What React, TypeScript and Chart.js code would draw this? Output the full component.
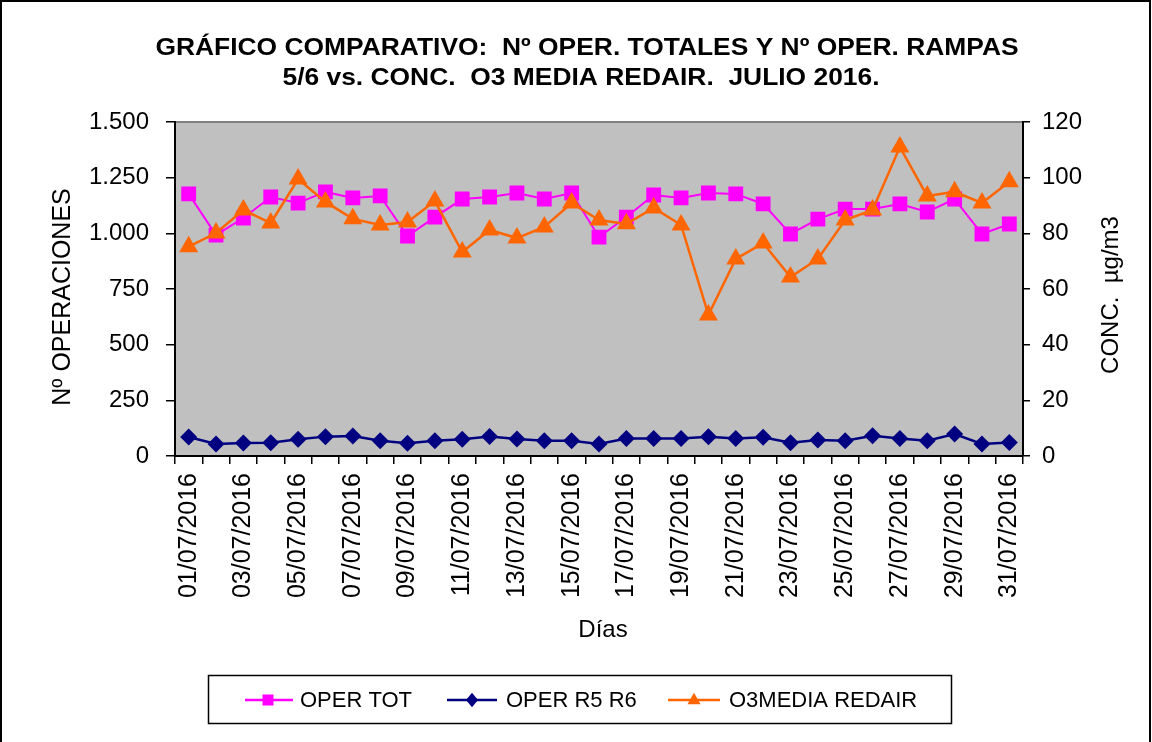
import React, { useEffect, useRef } from 'react';
import { Chart, registerables } from 'chart.js';

Chart.register(...registerables);

const DAYS = [
  '01/07/2016', '02/07/2016', '03/07/2016', '04/07/2016', '05/07/2016', '06/07/2016', '07/07/2016', '08/07/2016',
  '09/07/2016', '10/07/2016', '11/07/2016', '12/07/2016', '13/07/2016', '14/07/2016', '15/07/2016', '16/07/2016',
  '17/07/2016', '18/07/2016', '19/07/2016', '20/07/2016', '21/07/2016', '22/07/2016', '23/07/2016', '24/07/2016',
  '25/07/2016', '26/07/2016', '27/07/2016', '28/07/2016', '29/07/2016', '30/07/2016', '31/07/2016',
];

const OPER_TOT = [
  1177, 992, 1069, 1163, 1136, 1186, 1159, 1168, 988, 1073, 1154, 1163, 1181, 1154, 1181, 983,
  1073, 1172, 1159, 1181, 1177, 1132, 997, 1064, 1109, 1109, 1132, 1096, 1154, 997, 1042,
];

const OPER_R5R6 = [
  85, 54, 58, 60, 75, 87, 90, 69, 57, 69, 75, 88, 76, 69, 69, 54,
  79, 79, 79, 87, 79, 84, 60, 72, 69, 91, 79, 69, 99, 54, 61,
];

const O3_MEDIA = [
  75.2, 80.1, 88.4, 83.7, 99.5, 91.3, 85.2, 83.0, 84.1, 91.6, 73.3, 81.2, 78.3, 82.3, 90.9, 84.8,
  83.4, 89.1, 83.0, 50.7, 70.8, 76.5, 64.3, 70.8, 84.8, 88.4, 111.0, 93.4, 94.9, 90.9, 98.5,
];

const SERIES_NAMES = ['OPER TOT', 'OPER R5 R6', 'O3MEDIA REDAIR'];
const TITLE_LINES = [
  'GRÁFICO COMPARATIVO:  Nº OPER. TOTALES Y Nº OPER. RAMPAS',
  '5/6 vs. CONC.  O3 MEDIA REDAIR.  JULIO 2016.',
];
const Y_LEFT_TITLE = 'Nº OPERACIONES';
const Y_RIGHT_TITLE = 'CONC.  µg/m3';
const X_TITLE = 'Días';

const FONT = '"Liberation Sans", Arial, Helvetica, sans-serif';

function thousands(v: number): string {
  return String(v).replace(/\B(?=(\d{3})+(?!\d))/g, '.');
}

function drawMarker(ctx: CanvasRenderingContext2D, style: string, x: number, y: number, s: number, color: string) {
  ctx.fillStyle = color;
  ctx.beginPath();
  if (style === 'rect') {
    ctx.rect(x - s, y - s, 2 * s, 2 * s);
  } else if (style === 'rectRot') {
    ctx.moveTo(x, y - s * 1.2);
    ctx.lineTo(x + s, y);
    ctx.lineTo(x, y + s * 1.2);
    ctx.lineTo(x - s, y);
    ctx.closePath();
  } else {
    ctx.moveTo(x, y - s * 1.2);
    ctx.lineTo(x + s * 1.1, y + s * 0.7);
    ctx.lineTo(x - s * 1.1, y + s * 0.7);
    ctx.closePath();
  }
  ctx.fill();
}

const decorPlugin = {
  id: 'decor',
  beforeDraw(chart: any) {
    const { ctx, chartArea: a } = chart;
    ctx.save();
    ctx.fillStyle = '#ffffff';
    ctx.fillRect(0, 0, chart.width, chart.height);
    ctx.fillStyle = '#C0C0C0';
    ctx.fillRect(a.left, a.top, a.right - a.left, a.bottom - a.top);
    ctx.strokeStyle = '#808080';
    ctx.lineWidth = 2;
    ctx.beginPath();
    ctx.moveTo(a.left, a.top);
    ctx.lineTo(a.right, a.top);
    ctx.stroke();
    ctx.restore();
  },
  afterDraw(chart: any) {
    const { ctx, chartArea: a } = chart;
    ctx.save();
    // outer frame
    ctx.strokeStyle = '#000';
    ctx.lineWidth = 2;
    ctx.beginPath();
    ctx.moveTo(1, 760);
    ctx.lineTo(1, 1);
    ctx.lineTo(1150, 1);
    ctx.lineTo(1150, 760);
    ctx.stroke();

    // title
    ctx.fillStyle = '#000';
    ctx.textAlign = 'center';
    ctx.textBaseline = 'middle';
    ctx.font = `bold 24px ${FONT}`;
    const titleY = [48, 78];
    const titleX = [587, 581];
    TITLE_LINES.forEach((line, i) => {
      ctx.save();
      ctx.translate(titleX[i], titleY[i]);
      ctx.scale(1.1, 1);
      ctx.fillText(line, 0, 0);
      ctx.restore();
    });

    // axis titles
    ctx.font = `25px ${FONT}`;
    ctx.save();
    ctx.translate(63, (a.top + a.bottom) / 2 + 8);
    ctx.rotate(-Math.PI / 2);
    ctx.fillText(Y_LEFT_TITLE, 0, 0);
    ctx.restore();

    ctx.font = `24px ${FONT}`;
    ctx.save();
    ctx.translate(1111, (a.top + a.bottom) / 2 + 6);
    ctx.rotate(-Math.PI / 2);
    ctx.fillText(Y_RIGHT_TITLE, 0, 0);
    ctx.restore();

    ctx.fillText(X_TITLE, 603, 630);

    // legend
    ctx.lineWidth = 1.5;
    ctx.strokeStyle = '#000';
    ctx.strokeRect(208.5, 675.5, 743, 48);
    const slots = [
      { x1: 245, x2: 293, mx: 268, tx: 300 },
      { x1: 447, x2: 497, mx: 472, tx: 506 },
      { x1: 668, x2: 720, mx: 694, tx: 729 },
    ];
    const ly = 700;
    ctx.font = `22px ${FONT}`;
    ctx.textAlign = 'left';
    chart.data.datasets.forEach((ds: any, i: number) => {
      const s = slots[i];
      ctx.strokeStyle = ds.borderColor;
      ctx.lineWidth = 2.5;
      ctx.beginPath();
      ctx.moveTo(s.x1, ly);
      ctx.lineTo(s.x2, ly);
      ctx.stroke();
      drawMarker(ctx, ds.pointStyle, s.mx, ly, ds.pointStyle === 'rect' ? 5.5 : 6, ds.backgroundColor);
      ctx.fillStyle = '#000';
      ctx.fillText(ds.label, s.tx, ly + 1);
    });
    ctx.restore();
  },
};

export default function App() {
  const ref = useRef<HTMLCanvasElement | null>(null);

  useEffect(() => {
    if (!ref.current) return;
    document.body.style.margin = '0';
    const chart = new Chart(ref.current, {
      type: 'line',
      data: {
        labels: DAYS,
        datasets: [
          {
            label: SERIES_NAMES[0],
            data: OPER_TOT,
            yAxisID: 'y',
            borderColor: '#FF00FF',
            backgroundColor: '#FF00FF',
            borderWidth: 2,
            pointStyle: 'rect',
            pointRadius: 10.5,
            pointBorderWidth: 0,
            tension: 0,
            order: 1,
          },
          {
            label: SERIES_NAMES[1],
            data: OPER_R5R6,
            yAxisID: 'y',
            borderColor: '#000080',
            backgroundColor: '#000080',
            borderWidth: 2.5,
            pointStyle: 'rectRot',
            pointRadius: 8.5,
            pointBorderWidth: 0,
            tension: 0,
            order: 2,
          },
          {
            label: SERIES_NAMES[2],
            data: O3_MEDIA,
            yAxisID: 'y1',
            borderColor: '#FF6600',
            backgroundColor: '#FF6600',
            borderWidth: 2.5,
            pointStyle: 'triangle',
            pointRadius: 11,
            pointBorderWidth: 0,
            tension: 0,
            order: 0,
          },
        ],
      },
      plugins: [decorPlugin],
      options: {
        animation: false,
        responsive: false,
        devicePixelRatio: 1,
        layout: { padding: { top: 122, left: 0, right: 0, bottom: 0 } },
        plugins: {
          legend: { display: false },
          title: { display: false },
          tooltip: { enabled: false },
        },
        scales: {
          x: {
            type: 'category',
            offset: true,
            afterFit: (s: any) => { s.height = 286; },
            border: { display: true, color: '#000', width: 2 },
            grid: {
              display: true,
              offset: true,
              drawOnChartArea: false,
              drawTicks: true,
              tickLength: 8,
              color: '#000',
              lineWidth: 1.5,
            },
            ticks: {
              autoSkip: false,
              minRotation: 90,
              maxRotation: 90,
              padding: 9,
              color: '#000',
              font: { family: FONT, size: 25 },
              callback: (_v: any, i: number) => (i % 2 === 0 ? DAYS[i] : ''),
            },
          },
          y: {
            position: 'left',
            min: 0,
            max: 1500,
            afterFit: (s: any) => { s.width = 175; },
            border: { display: true, color: '#000', width: 2 },
            grid: {
              drawOnChartArea: false,
              drawTicks: true,
              tickLength: 9,
              color: '#000',
              lineWidth: 1.5,
            },
            ticks: {
              stepSize: 250,
              padding: 17,
              color: '#000',
              font: { family: FONT, size: 24 },
              callback: (v: any) => thousands(Number(v)),
            },
          },
          y1: {
            position: 'right',
            min: 0,
            max: 120,
            afterFit: (s: any) => { s.width = 129; },
            border: { display: true, color: '#000', width: 2 },
            grid: {
              drawOnChartArea: false,
              drawTicks: true,
              tickLength: 7,
              color: '#000',
              lineWidth: 1.5,
            },
            ticks: {
              stepSize: 20,
              padding: 12,
              color: '#000',
              font: { family: FONT, size: 24 },
            },
          },
        },
      },
    } as any);
    return () => chart.destroy();
  }, []);

  return (
    <div style={{ position: 'absolute', left: 0, top: 0, width: 1152, height: 742, background: '#fff' }}>
      <canvas ref={ref} width={1152} height={742} style={{ display: 'block' }} />
    </div>
  );
}
